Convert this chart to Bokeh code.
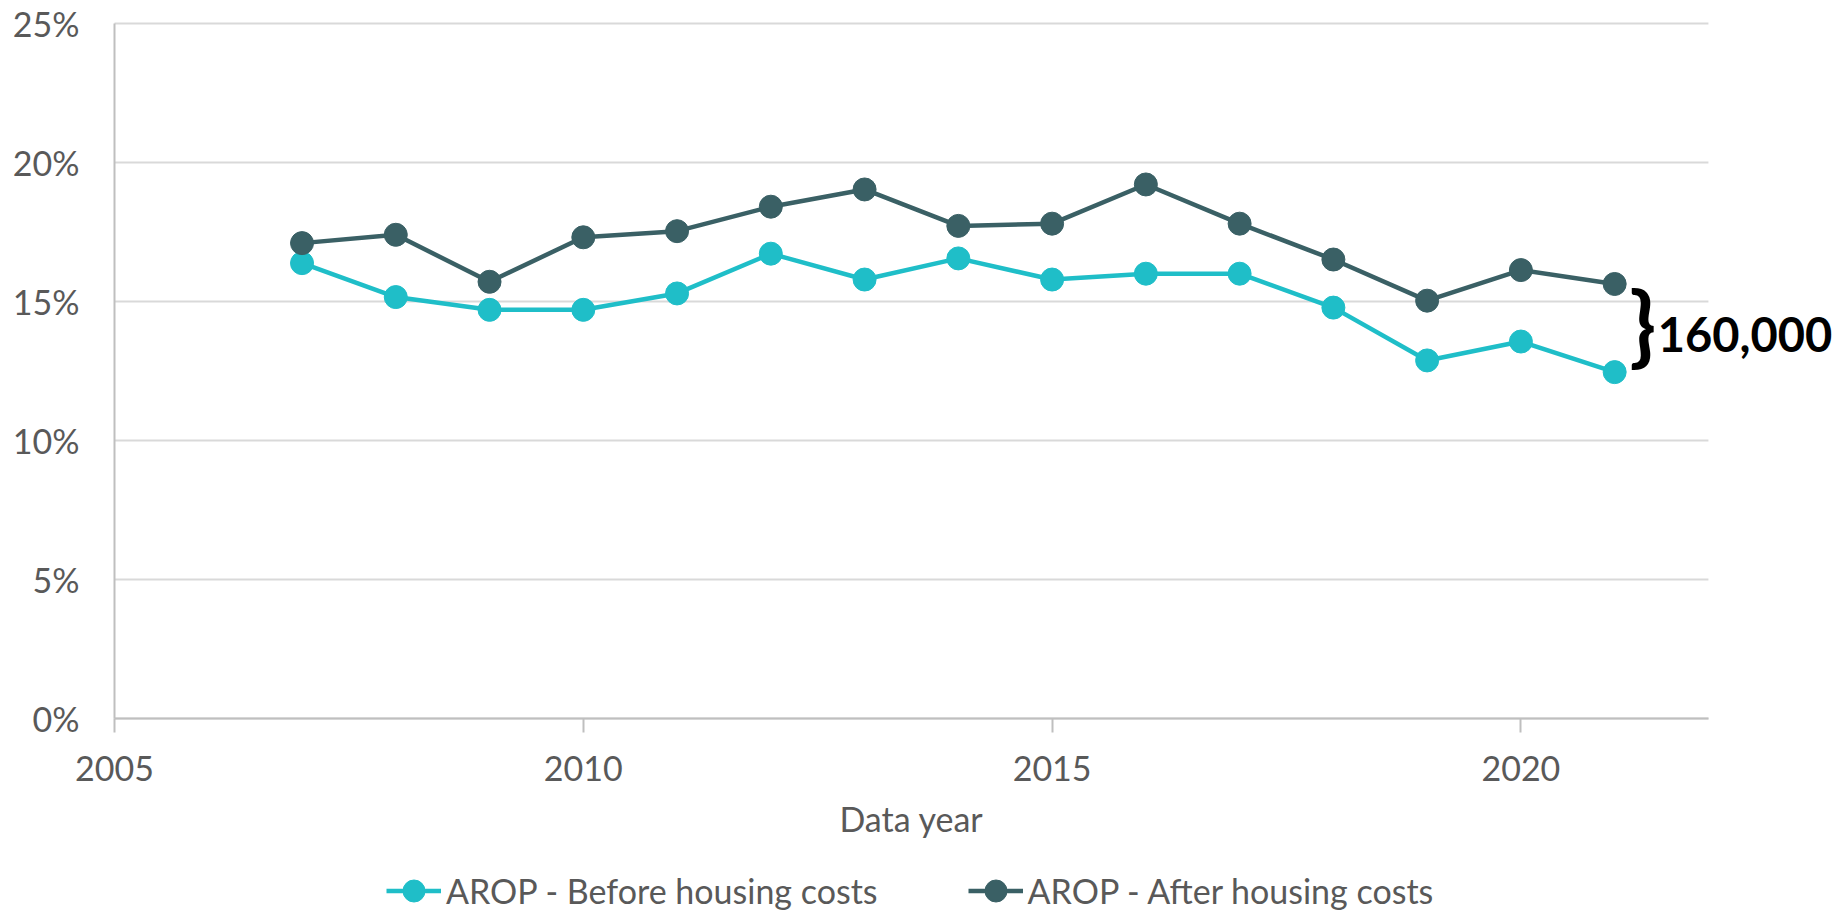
from bokeh.plotting import figure
from bokeh.models import (Range1d, FixedTicker, NumeralTickFormatter, Legend, LegendItem,
                          Label, ColumnDataSource)
from bokeh.embed import file_html
from bokeh.resources import INLINE

years = [2007, 2008, 2009, 2010, 2011, 2012, 2013, 2014, 2015, 2016, 2017, 2018, 2019, 2020, 2021]
before_hc = [0.1638, 0.1516, 0.1470, 0.1470, 0.1529, 0.1672, 0.1579, 0.1655, 0.1579, 0.1600, 0.1600,
             0.1478, 0.1288, 0.1356, 0.1246]
after_hc = [0.1710, 0.1740, 0.1571, 0.1731, 0.1753, 0.1841, 0.1903, 0.1772, 0.1780, 0.1921, 0.1780,
            0.1651, 0.1503, 0.1613, 0.1563]
x_ticks = [2005, 2010, 2015, 2020]
y_ticks = [0, 0.05, 0.10, 0.15, 0.20, 0.25]
x_axis_end = 2022
x_title = "Data year"
series_names = ["AROP - Before housing costs", "AROP - After housing costs"]
gap_label = "160,000"

CYAN = "#1FBEC8"
DARK = "#3A6065"
FONT = "Lato"
TXT = "#595959"
GRID = "#d9d9d9"
AXIS = "#bfbfbf"

# plot area: 2005..2022 / 0..25%; the frame covers the whole canvas so that tick labels,
# axis title, legend and the annotation on the right all live inside it
PX_X = 93.76      # px per year
PX_Y = 2780.0     # px per unit (100%)
LEFT = 114        # px from canvas left to the 2005 axis
TOP = 23          # px from canvas top to the 25% line
FW, FH = 1836, 910
x0 = x_ticks[0] - LEFT / PX_X
p = figure(frame_width=FW, frame_height=FH, output_backend="svg", toolbar_location=None,
           x_range=Range1d(x0, x0 + FW / PX_X),
           y_range=Range1d(0.25 + TOP / PX_Y - FH / PX_Y, 0.25 + TOP / PX_Y),
           min_border_left=0, min_border_right=0, min_border_top=0, min_border_bottom=0,
           background_fill_color="white", border_fill_color="white")
p.outline_line_color = None

# horizontal gridlines only across the data area (2005..2022)
p.xgrid.grid_line_color = None
p.ygrid.grid_line_color = None
p.segment(x0=[x_ticks[0]] * len(y_ticks), x1=[x_axis_end] * len(y_ticks), y0=y_ticks, y1=y_ticks,
          line_color=GRID, line_width=2)

src = ColumnDataSource(dict(x=years, b=before_hc, a=after_hc))
l1 = p.line("x", "b", source=src, line_color=CYAN, line_width=4.5)
c1 = p.scatter("x", "b", source=src, size=23, fill_color=CYAN, line_color=CYAN)
l2 = p.line("x", "a", source=src, line_color=DARK, line_width=4.5)
c2 = p.scatter("x", "a", source=src, size=23, fill_color=DARK, line_color=DARK)

# axes
p.xaxis.ticker = FixedTicker(ticks=x_ticks)
p.xaxis.bounds = (x_ticks[0], x_axis_end)
p.xaxis.fixed_location = 0
p.yaxis.ticker = FixedTicker(ticks=y_ticks)
p.yaxis.bounds = (0, 0.25)
p.yaxis.fixed_location = x_ticks[0]
p.yaxis.formatter = NumeralTickFormatter(format="0%")

for ax in (p.xaxis, p.yaxis):
    ax.axis_line_color = AXIS
    ax.axis_line_width = 2
    ax.minor_tick_line_color = None
    ax.major_label_text_font = FONT
    ax.major_label_text_font_size = "34px"
    ax.major_label_text_color = TXT

p.xaxis.major_tick_line_color = AXIS
p.xaxis.major_tick_line_width = 2
p.xaxis.major_tick_out = 14
p.xaxis.major_tick_in = 0
p.xaxis.major_label_standoff = 23

p.yaxis.major_tick_line_color = None
p.yaxis.major_label_standoff = 29

# x-axis title, centred under the 2005..2022 span
p.add_layout(Label(x=(x_ticks[0] + x_axis_end) / 2, y=-0.0359, text=x_title, text_font=FONT,
                   text_font_size="34px", text_color=TXT, text_align="center",
                   text_baseline="middle"))

legend = Legend(items=[LegendItem(label=series_names[0], renderers=[l1, c1]),
                       LegendItem(label=series_names[1], renderers=[l2, c2])],
                location=(386, -9), orientation="horizontal", border_line_color=None,
                background_fill_alpha=0, padding=0, margin=0, spacing=90,
                glyph_width=55, glyph_height=57, label_standoff=5,
                label_text_font=FONT, label_text_font_size="34px", label_text_color=TXT)
p.add_layout(legend, "center")

# brace annotation
p.add_layout(Label(x=2021.3, y=0.1428, text="}", text_font=FONT, text_font_size="88px",
                   text_font_style="bold", text_color="black", text_align="center",
                   text_baseline="middle"))
p.add_layout(Label(x=2021.46, y=0.1382, text=gap_label, text_font=FONT, text_font_size="47px",
                   text_font_style="bold", text_color="black", text_align="left",
                   text_baseline="middle"))

open("out.html", "w").write(file_html(p, INLINE))
